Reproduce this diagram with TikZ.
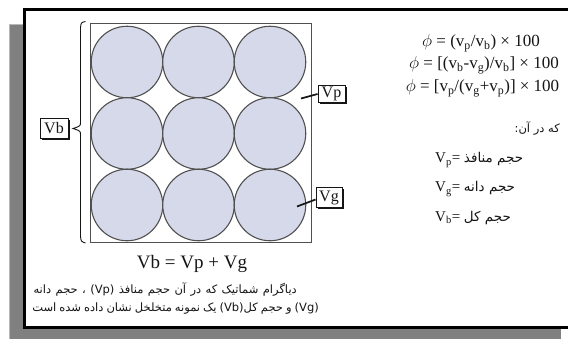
\documentclass[tikz,border=0pt]{standalone}
\usepackage{fontspec}
\setmainfont{Liberation Serif}
\newfontfamily\fa[Script=Arabic]{DejaVu Sans}
\TeXXeTstate=1
\usetikzlibrary{shadows}
\definecolor{shadowgray}{HTML}{808080}
\definecolor{shadowlight}{HTML}{B8B8B8}
\definecolor{grainfill}{HTML}{D6D9EA}
\definecolor{grainline}{HTML}{505050}
\definecolor{ink}{HTML}{151515}
\tikzset{
  grain/.style={circle, draw=grainline, line width=1.1pt, fill=grainfill, minimum size=71.5pt, inner sep=0pt},
  lblbox/.style={draw=ink, line width=0.9pt, fill=white, inner sep=1pt, text=ink,
    font=\fontsize{16}{16}\selectfont,
    general shadow={shadow xshift=1.8pt, shadow yshift=-1.8pt, fill=ink}},
  callout/.style={draw=ink, line width=1.7pt},
  formula/.style={text=ink, font=\fontsize{17}{17}\selectfont, inner sep=0pt},
  defline/.style={text=ink, font=\fontsize{15}{15}\selectfont, inner sep=0pt, anchor=west},
  caption/.style={text=ink, font=\fa\fontsize{11.5}{12}\selectfont, inner sep=0pt}
}
\begin{document}
\begin{tikzpicture}[x=1pt,y=-1pt]
\useasboundingbox (0,0) rectangle (568,338);
% page shadow and frame
\fill[shadowgray] (9,24) rectangle (561,345);
\draw[shadowlight, line width=1.2pt] (9.6,345) -- (9.6,24.6) -- (561,24.6);
\filldraw[fill=white, draw=black, line width=3.4pt] (24.7,9.7) rectangle (580,327.3);
% sample square
\draw[grainline, line width=0.9pt] (90,23) rectangle (311,242);
% grains
\foreach \r/\y in {1/62,2/133.5,3/205}{
  \foreach \c/\x in {1/127,2/198.5,3/270}{
    \node[grain] (g\r\c) at (\x,\y) {};
  }
}
% brace for Vb
\draw[ink, line width=0.9pt] (85.5,21.5) .. controls (81,22.5) .. (80.5,28) -- (80.5,122)
   .. controls (80.5,126) .. (73,128.5) .. controls (80.5,131) .. (80.5,135) -- (80.5,236)
   .. controls (81,241.5) .. (85.5,243);
% labels
\node[lblbox, minimum width=28pt, minimum height=20pt] (vb) at (54,128) {Vb};
\node[lblbox, minimum width=27pt, minimum height=17pt] (vp) at (331.5,94) {Vp};
\node[lblbox, minimum width=26pt, minimum height=20pt] (vg) at (329,197.5) {Vg};
\coordinate (pp) at (301,98.5);
\coordinate (gp) at (297,206.5);
\draw[callout] (vp.west) -- (pp);
\draw[callout] ([yshift=-2pt]vg.west) -- (gp);
% balance equation
\node[text=ink, font=\fontsize{19}{19}\selectfont, inner sep=0pt] (eq) at (192,264) {Vb = Vp + Vg};
% caption
\node[caption, anchor=east] (cap1) at (297,289) {\spaceskip=4.4pt\beginR دیاگرام شماتیک که در آن حجم منافذ \beginL(Vp)\endL{} ، حجم دانه\endR};
\node[caption, anchor=east] (cap2) at (319,309) {\spaceskip=3pt\beginR\beginL(Vg)\endL{} و حجم کل\beginL(Vb)\endL{}  یک نمونه متخلخل نشان داده شده است\endR};
% formulas
\node[formula] (f1) at (481,43) {$\phi$ = (v\textsubscript{p}/v\textsubscript{b}) × 100};
\node[formula] (f2) at (484,65) {$\phi$ = [(v\textsubscript{b}-v\textsubscript{g})/v\textsubscript{b}] × 100};
\node[formula] (f3) at (482.5,88) {$\phi$ = [v\textsubscript{p}/(v\textsubscript{g}+v\textsubscript{p})] × 100};
% definitions
\node[text=ink, font=\fa\fontsize{11.5}{12}\selectfont, inner sep=0pt, anchor=east] (where) at (560,129) {\beginR که در آن:\endR};
\node[defline] (dp) at (435,160) {V\textsubscript{p}= {\fa\fontsize{13.5}{14}\selectfont\beginR حجم منافذ\endR}};
\node[defline] (dg) at (435,189) {V\textsubscript{g}= {\fa\fontsize{13.5}{14}\selectfont\beginR حجم دانه\endR}};
\node[defline] (db) at (435,218) {V\textsubscript{b}= {\fa\fontsize{13.5}{14}\selectfont\beginR حجم کل\endR}};
\end{tikzpicture}
\end{document}
